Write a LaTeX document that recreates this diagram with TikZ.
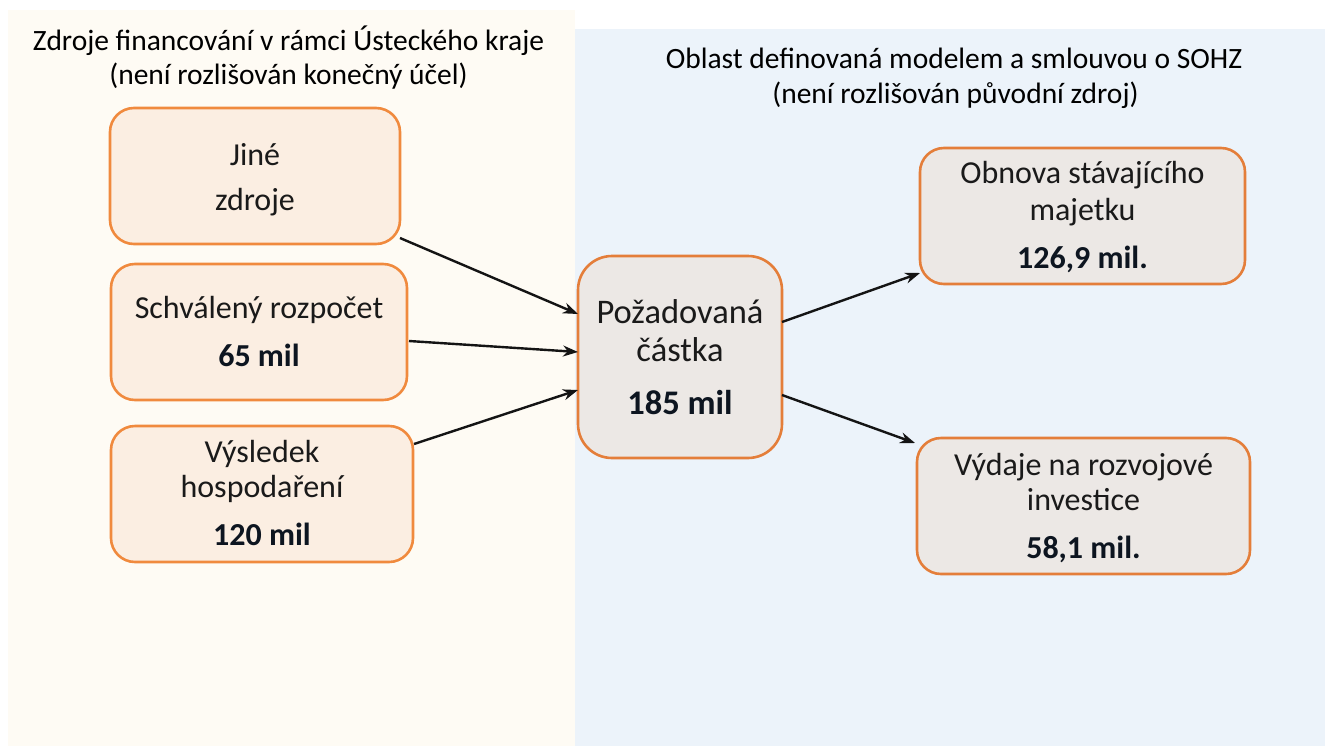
\documentclass[tikz,border=0pt]{standalone}
\usepackage{fontspec}
\setmainfont{Carlito}
\usetikzlibrary{arrows.meta,calc}
\definecolor{creambg}{HTML}{FEFBF4}
\definecolor{bluebg}{HTML}{ECF3FA}
\definecolor{srcfill}{HTML}{FBEEE2}
\definecolor{srcdraw}{HTML}{F08A3E}
\definecolor{outfill}{HTML}{ECE8E5}
\definecolor{outdraw}{HTML}{E47E3A}
\definecolor{txt}{HTML}{1A1A1A}
\definecolor{numtxt}{HTML}{0D1520}
\tikzset{
  srcbox/.style={draw=srcdraw,fill=srcfill,line width=2.6pt,rounded corners=24pt,inner sep=0pt,outer sep=0pt},
  outbox/.style={draw=outdraw,fill=outfill,line width=2.6pt,rounded corners=24pt,inner sep=0pt,outer sep=0pt},
  boxtext/.style={inner sep=0pt,text height=20pt,text depth=0pt,anchor=center,text=txt,font=\fontsize{32}{38}\selectfont},
  numtext/.style={boxtext,text=numtxt,font=\fontsize{32}{38}\selectfont\bfseries},
  bigtext/.style={boxtext,text height=22pt,font=\fontsize{34.5}{40}\selectfont},
  bignum/.style={bigtext,text=numtxt,font=\fontsize{34.5}{40}\selectfont\bfseries},
  titletext/.style={inner sep=0pt,text height=18pt,text depth=0pt,anchor=center,text=black,font=\fontsize{29.5}{35}\selectfont},
  conn/.style={-{Stealth[length=15pt,width=11pt]},line width=2.4pt,draw=black!92}
}
\begin{document}
\begin{tikzpicture}[x=1pt,y=-1pt]
\useasboundingbox (0,0) rectangle (1325,747);
\fill[white] (0,0) rectangle (1325,747);
\fill[creambg] (8,10) rectangle (575,746);
\fill[bluebg] (575,29) rectangle (1325,746);
% titles
\node[titletext] (tl1) at (288.5,41) {Zdroje financování v rámci Ústeckého kraje};
\node[titletext] (tl2) at (288.5,75) {(není rozlišován konečný účel)};
\node[titletext] (tr1) at (954,59) {Oblast definovaná modelem a smlouvou o SOHZ};
\node[titletext] (tr2) at (955.5,94) {(není rozlišován původní zdroj)};
% boxes
\node[srcbox,minimum width=290pt,minimum height=136pt] (jine) at (255,176) {};
\node[srcbox,minimum width=296pt,minimum height=136pt] (schval) at (259,332) {};
\node[srcbox,minimum width=302pt,minimum height=136pt] (vysl) at (262,494) {};
\node[outbox,minimum width=204pt,minimum height=202pt,rounded corners=34pt] (pozad) at (680,357) {};
\node[outbox,minimum width=325pt,minimum height=136pt] (obnova) at (1082.5,216) {};
\node[outbox,minimum width=333pt,minimum height=136pt] (vydaje) at (1083.5,506) {};
% texts
\node[boxtext] (jine1) at (255,155) {Jiné};
\node[boxtext] (jine2) at (255,200) {zdroje};
\node[boxtext] (schval1) at (259,308) {Schválený rozpočet};
\node[numtext] (schval2) at (259,356) {65 mil};
\node[boxtext] (vysl1) at (262,452) {Výsledek};
\node[boxtext] (vysl2) at (262,487) {hospodaření};
\node[numtext] (vysl3) at (262,535) {120 mil};
\node[bigtext] (pozad1) at (680,312) {Požadovaná};
\node[bigtext] (pozad2) at (680,350) {částka};
\node[bignum] (pozad3) at (680,403) {185 mil};
\node[boxtext] (obnova1) at (1082.5,173) {Obnova stávajícího};
\node[boxtext] (obnova2) at (1082.5,210) {majetku};
\node[numtext] (obnova3) at (1082.5,258) {126,9 mil.};
\node[boxtext] (vydaje1) at (1083.5,465) {Výdaje na rozvojové};
\node[boxtext] (vydaje2) at (1083.5,500) {investice};
\node[numtext] (vydaje3) at (1083.5,548) {58,1 mil.};
% connectors
\draw[conn] ($(jine.south east)+(0,-6)$) -- ($(pozad.west)+(0,-43)$);
\draw[conn] ($(schval.east)+(2,9)$) -- ($(pozad.west)+(0,-5)$);
\draw[conn] ($(vysl.north east)+(1,18)$) -- ($(pozad.west)+(0,33)$);
\draw[conn] ($(pozad.east)+(0,-35)$) -- ($(obnova.south west)+(0,-11)$);
\draw[conn] ($(pozad.east)+(0,38)$) -- ($(vydaje.north west)+(-2,5)$);
\end{tikzpicture}
\end{document}
